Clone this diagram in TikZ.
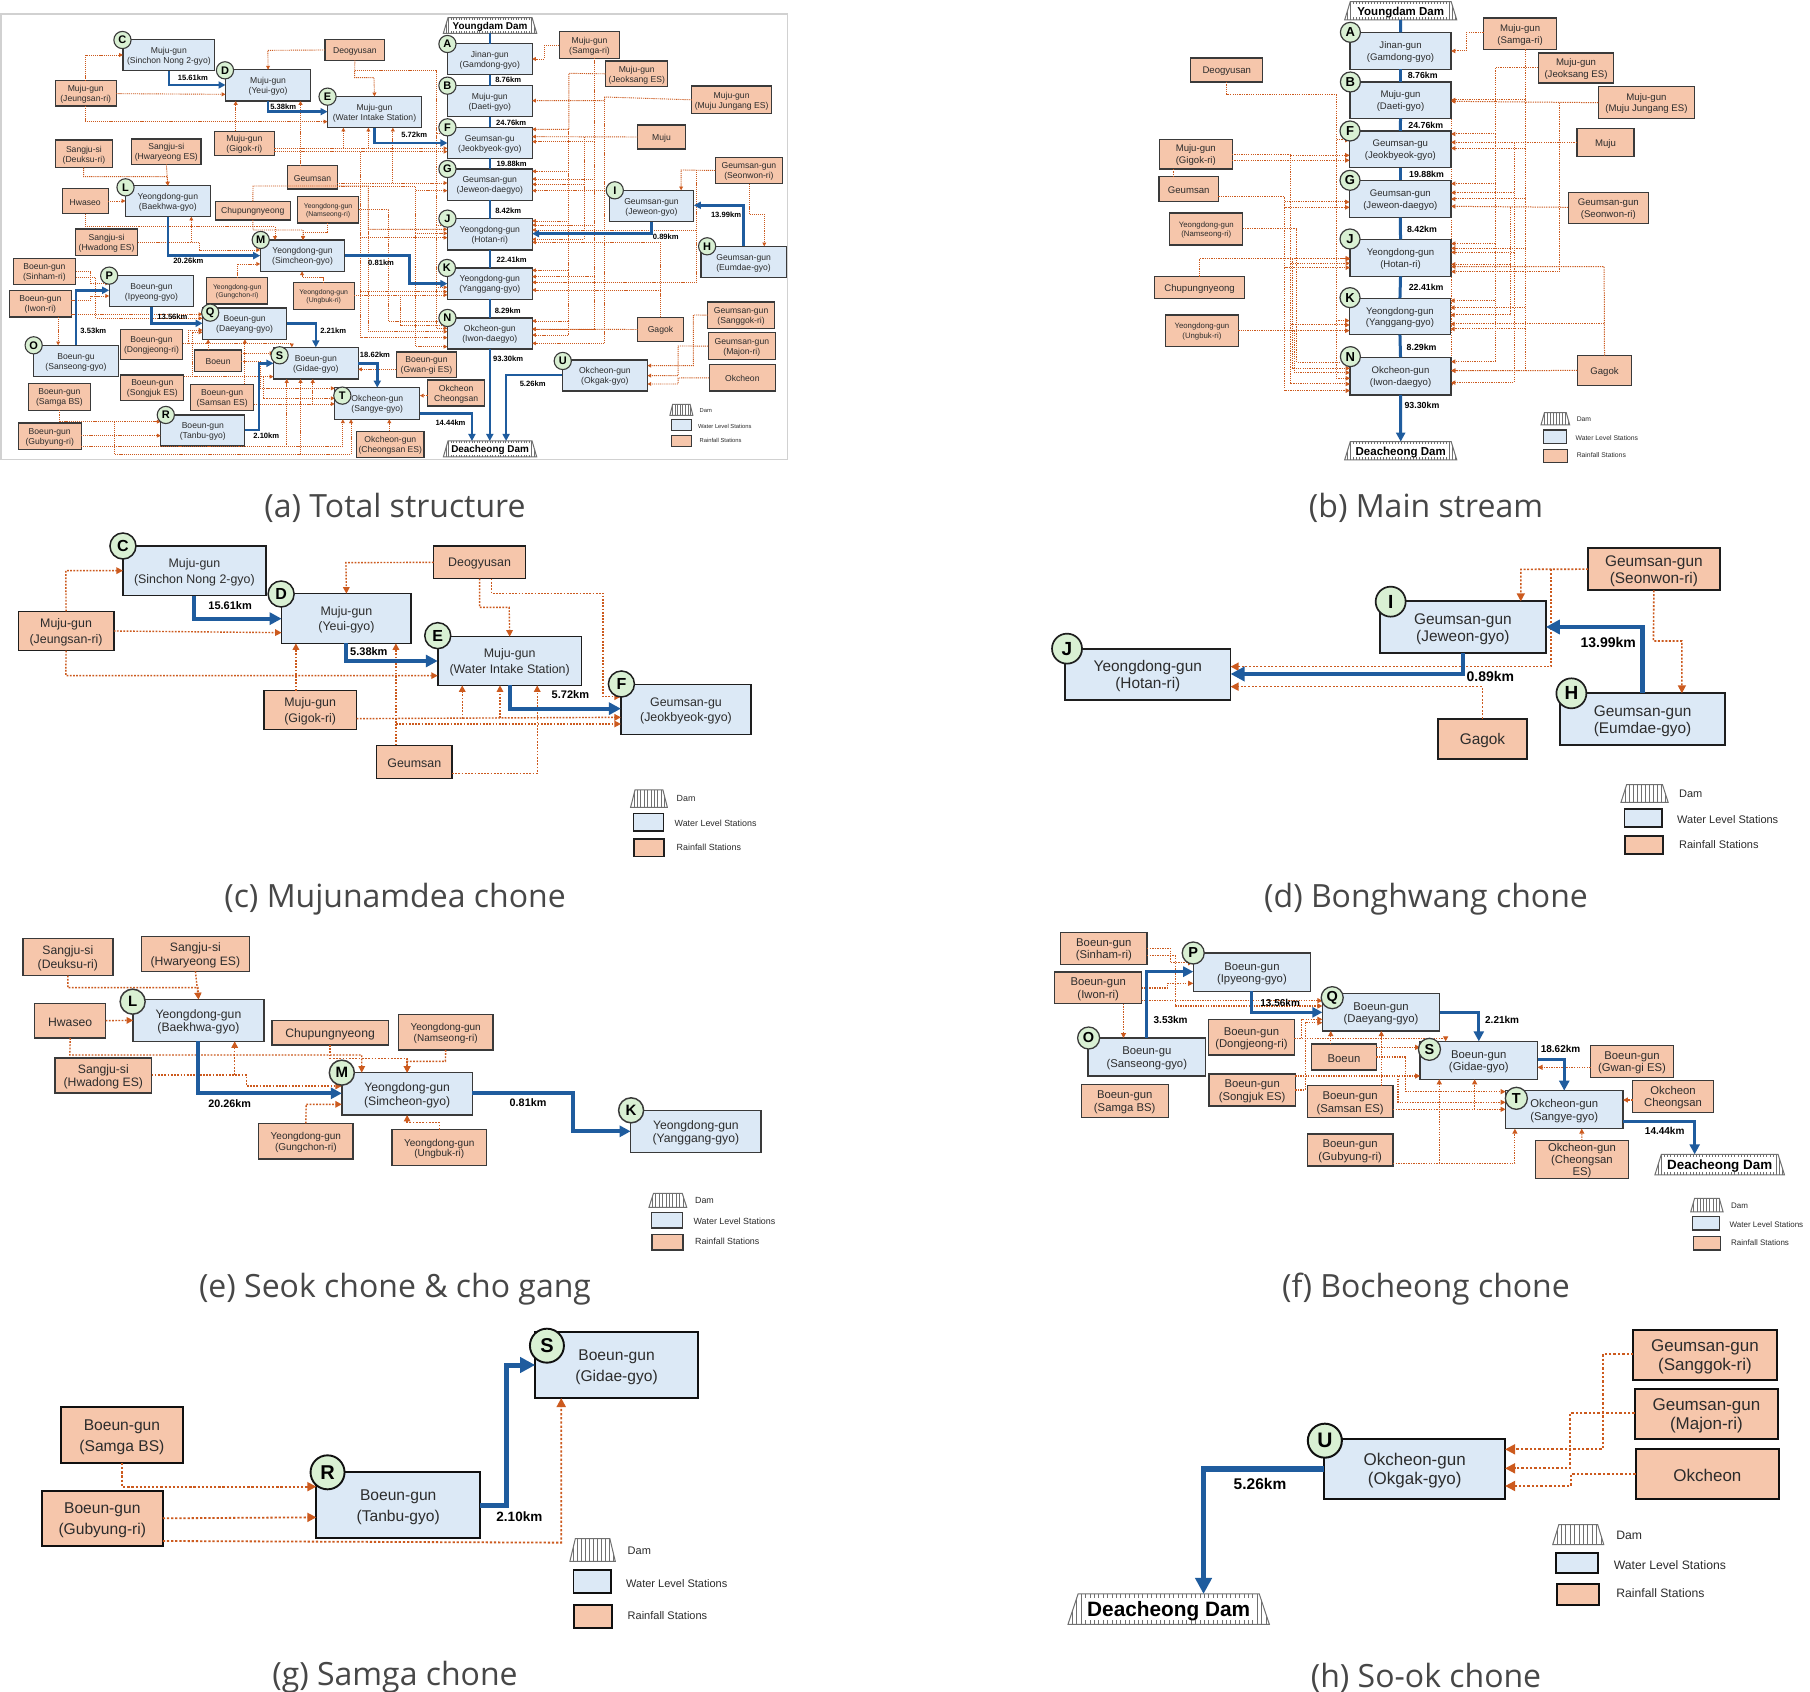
\documentclass[tikz,border=0pt]{standalone}
\usepackage{fontspec}
\setmainfont{Liberation Sans}
\newfontfamily\capfont{Open Sans}
\usetikzlibrary{arrows.meta}
\definecolor{wlc}{HTML}{DCE9F6}
\definecolor{rainfc}{HTML}{F6C6AB}
\definecolor{circc}{HTML}{D9F0D3}
\definecolor{bluec}{HTML}{1F5C9E}
\definecolor{rainc}{HTML}{CC5A1E}
\definecolor{damc}{HTML}{707070}
\definecolor{txtc}{HTML}{2C2C2C}
\definecolor{boxc}{HTML}{3A3A3A}
\newcount\labc
\tikzset{
 stnbase/.style={draw=boxc,line width=\lwb pt,inner sep=0pt,outer sep=0pt,align=center,text=txtc},
 wlb/.style={stnbase,fill=wlc,font=\fontsize{\fm}{\fl}\selectfont},
 rnb/.style={stnbase,fill=rainfc,font=\fontsize{\fm}{\fl}\selectfont},
 rsb/.style={stnbase,fill=rainfc,font=\fontsize{\fs}{\fsl}\selectfont},
 circb/.style={circle,draw=boxc,fill=circc,line width=\lwb pt,inner sep=0pt,outer sep=0pt,minimum size=2*\crad pt,font=\fontsize{\fc}{\fc}\selectfont\bfseries,text=black},
 kml/.style={inner sep=0pt,font=\fontsize{\fk}{\fk}\selectfont\bfseries,text=black},
 legl/.style={inner sep=0pt,anchor=west,font=\fontsize{\fg}{\fg}\selectfont,text=txtc},
 damlab/.style={inner sep=0pt,outer sep=0pt,font=\fontsize{\fd}{\fd}\selectfont\bfseries,text=black},
 rn/.style={draw=rainc,line width=\lwr pt,dash pattern=on 1.25*\lwr pt off 1.05*\lwr pt,-{Triangle[length=\tipr pt,width=\tipr pt]}},
 rnx/.style={draw=rainc,line width=\lwr pt,dash pattern=on 1.25*\lwr pt off 1.05*\lwr pt},
 bl/.style={draw=bluec,line width=\lwl pt,-{Triangle[length=\tipl pt,width=\tipl pt]}},
 bln/.style={draw=bluec,line width=\lwl pt},
 capt/.style={inner sep=0pt,font=\fontsize{32}{36}\capfont,text=black!72},
}
\newcommand\stn[7]{\node[#1,minimum width={(#5-#3)*\sx*1pt},minimum height={(#6-#4)*\sy*1pt}] (#2) at ({(#3+#5)/2},{(#4+#6)/2}) {\rule{0pt}{.95em}#7};}
\newcommand\stnW[6]{\stn{wlb}{#1}{#2}{#3}{#4}{#5}{#6}}
\newcommand\stnR[6]{\stn{rnb}{#1}{#2}{#3}{#4}{#5}{#6}}
\newcommand\stnS[6]{\stn{rsb}{#1}{#2}{#3}{#4}{#5}{#6}}
\newcommand\cirL[4]{\node[circb] (#1) at (#2,#3) {#4};}
\newcommand\kmL[3]{\global\advance\labc by 1 \node[kml] (km\the\labc) at (#1,#2) {#3};}
\newcommand\legT[3]{\global\advance\labc by 1 \node[legl] (lg\the\labc) at (#1,#2) {#3};}
\newcommand\damshape[5]{%
 \begin{scope}
 \clip (#1,#4)--({#1+#5},#2)--({#3-#5},#2)--(#3,#4)--cycle;
 \pgfmathtruncatemacro\damn{(#3-#1)*\sx/\damst}
 \foreach \i in {0,...,\damn}{\draw[damc,line width=.9pt] ({#1+\i*\damst/\sx},#2)--({#1+\i*\damst/\sx},#4);}
 \end{scope}
 \draw[damc,line width=1pt,line join=miter] (#1,#4)--({#1+#5},#2)--({#3-#5},#2)--(#3,#4)--cycle;}
\newcommand\damL[6]{%
 \damshape{#2}{#3}{#4}{#5}{(#4-#2)*.05}
 \fill[white] ({#2+(#4-#2)*.07},{#3+(#5-#3)*.14}) rectangle ({#4-(#4-#2)*.07},{#5-(#5-#3)*.14});
 \stn{damlab}{#1}{#2}{#3}{#4}{#5}{#6}}
\newcommand\legendB[9]{%
 \damshape{#2}{#3}{#4}{#5}{(#4-#2)*.12}
 \node[inner sep=0pt,minimum size=0pt] (#1) at ({(#2+#4)/2},{(#3+#5)/2}) {};
 \stnW{#1w}{#6}{#7}{#8}{#9}{}}
\begin{document}
\begin{tikzpicture}
\useasboundingbox (0pt,0pt) rectangle (1810pt,-1692pt);
\fill[white] (0pt,0pt) rectangle (1810pt,-1692pt);
\node[capt] (capa) at (395pt,-507.5pt) {(a) Total structure};
\node[capt] (capb) at (1426pt,-507.5pt) {(b) Main stream};
\node[capt] (capc) at (395pt,-899.5pt) {(c) Mujunamdea chone};
\node[capt] (capd) at (1426pt,-899.5pt) {(d) Bonghwang chone};
\node[capt] (cape) at (395pt,-1289.5pt) {(e) Seok chone \& cho gang};
\node[capt] (capf) at (1426pt,-1289.5pt) {(f) Bocheong chone};
\node[capt] (capg) at (395pt,-1677.5pt) {(g) Samga chone};
\node[capt] (caph) at (1426pt,-1677.5pt) {(h) So-ok chone};

% ---------- (a)
\def\sx{.5102}\def\sy{.3333}\def\fm{8.6}\def\fl{10}\def\fs{6.9}\def\fsl{8.6}\def\fc{11}\def\crad{8.6}\def\fk{7.6}\def\fg{5.8}\def\fd{9.9}
\def\lwb{1.1}\def\lwr{.9}\def\lwl{2.5}\def\tipr{3.8}\def\tipl{7}\def\damst{2.6}
\begin{scope}[shift={(0pt,0pt)},x={(\sx pt,0pt)},y={(0pt,-\sy pt)}]
\draw[black!18,line width=1.2pt] (2,42) rectangle (1544,1378);
\stnW{aC}{241}{119}{421}{212}{Muju-gun\\(Sinchon Nong 2-gyo)}
\stnW{aD}{442}{209}{609}{303}{Muju-gun\\(Yeui-gyo)}
\stnW{aE}{642}{289}{826}{383}{Muju-gun\\(Water Intake Station)}
\stnW{aA}{877}{131}{1043}{224}{Jinan-gun\\(Gamdong-gyo)}
\stnW{aB}{877}{257}{1043}{350}{Muju-gun\\(Daeti-gyo)}
\stnW{aF}{877}{382}{1043}{475}{Geumsan-gu\\(Jeokbyeok-gyo)}
\stnW{aG}{877}{507}{1043}{601}{Geumsan-gun\\(Jeweon-daegyo)}
\stnW{aJ}{877}{656}{1043}{750}{Yeongdong-gun\\(Hotan-ri)}
\stnW{aK}{877}{804}{1043}{898}{Yeongdong-gun\\(Yanggang-gyo)}
\stnW{aN}{877}{954}{1043}{1047}{Okcheon-gun\\(Iwon-daegyo)}
\stnW{aI}{1194}{571}{1360}{665}{Geumsan-gun\\(Jeweon-gyo)}
\stnW{aH}{1374}{739}{1541}{833}{Geumsan-gun\\(Eumdae-gyo)}
\stnW{aL}{246}{557}{412}{650}{Yeongdong-gun\\(Baekhwa-gyo)}
\stnW{aM}{510}{720}{676}{814}{Yeongdong-gun\\(Simcheon-gyo)}
\stnW{aP}{214}{827}{380}{920}{Boeun-gun\\(Ipyeong-gyo)}
\stnW{aQ}{397}{924}{562}{1018}{Boeun-gun\\(Daeyang-gyo)}
\stnW{aO}{66}{1036}{232}{1130}{Boeun-gu\\(Sanseong-gyo)}
\stnW{aS}{536}{1042}{702}{1137}{Boeun-gun\\(Gidae-gyo)}
\stnW{aR}{315}{1245}{480}{1338}{Boeun-gun\\(Tanbu-gyo)}
\stnW{aT}{656}{1163}{823}{1258}{Okcheon-gun\\(Sangye-gyo)}
\stnW{aU}{1102}{1080}{1269}{1173}{Okcheon-gun\\(Okgak-gyo)}
\stnR{aDeog}{637}{119}{754}{181}{Deogyusan}
\stnR{aSamga}{1096}{95}{1215}{175}{Muju-gun\\(Samga-ri)}
\stnR{aJeok}{1187}{183}{1309}{260}{Muju-gun\\(Jeoksang ES)}
\stnR{aJung}{1356}{258}{1512}{341}{Muju-gun\\(Muju Jungang ES)}
\stnR{aMuju}{1250}{375}{1343}{447}{Muju}
\stnR{aJeung}{108}{242}{228}{318}{Muju-gun\\(Jeungsan-ri)}
\stnR{aGigok}{420}{394}{538}{467}{Muju-gun\\(Gigok-ri)}
\stnR{aDeuk}{108}{420}{221}{503}{Sangju-si\\(Deuksu-ri)}
\stnR{aHwar}{258}{417}{394}{493}{Sangju-si\\(Hwaryeong ES)}
\stnR{aGeum}{564}{497}{661}{567}{Geumsan}
\stnR{aHwas}{122}{565}{212}{641}{Hwaseo}
\stnR{aChup}{422}{604}{569}{660}{Chupungnyeong}
\stnS{aNams}{583}{590}{703}{669}{Yeongdong-gun\\(Namseong-ri)}
\stnR{aHwad}{148}{687}{270}{767}{Sangju-si\\(Hwadong ES)}
\stnR{aSeon}{1402}{472}{1534}{551}{Geumsan-gun\\(Seonwon-ri)}
\stnR{aSinh}{26}{775}{148}{853}{Boeun-gun\\(Sinham-ri)}
\stnR{aIwon}{18}{871}{140}{951}{Boeun-gun\\(Iwon-ri)}
\stnS{aGung}{405}{833}{525}{912}{Yeongdong-gun\\(Gungchon-ri)}
\stnS{aUng}{575}{848}{694}{928}{Yeongdong-gun\\(Ungbuk-ri)}
\stnR{aDong}{236}{989}{358}{1079}{Boeun-gun\\(Dongjeong-ri)}
\stnR{aBoeun}{382}{1050}{473}{1114}{Boeun}
\stnR{aGwan}{777}{1056}{895}{1133}{Boeun-gun\\(Gwan-gi ES)}
\stnR{aSong}{237}{1125}{360}{1202}{Boeun-gun\\(Songjuk ES)}
\stnR{aSams}{374}{1153}{497}{1232}{Boeun-gun\\(Samsan ES)}
\stnR{aSamB}{56}{1150}{177}{1231}{Boeun-gun\\(Samga BS)}
\stnR{aOkCh}{838}{1140}{950}{1218}{Okcheon\\Cheongsan}
\stnR{aGub}{36}{1269}{159}{1349}{Boeun-gun\\(Gubyung-ri)}
\stnR{aChES}{699}{1294}{831}{1372}{Okcheon-gun\\(Cheongsan ES)}
\stnR{aGag}{1250}{952}{1339}{1025}{Gagok}
\stnR{aSang}{1387}{906}{1518}{985}{Geumsan-gun\\(Sanggok-ri)}
\stnR{aMaj}{1388}{998}{1520}{1079}{Geumsan-gun\\(Majon-ri)}
\stnR{aOk}{1390}{1094}{1520}{1173}{Okcheon}
\damL{aYD}{869}{53}{1052}{100}{Youngdam Dam}
\damL{aDD}{869}{1323}{1052}{1371}{Deacheong Dam}
% rain
\draw[rn] (aJeung.north) -- (168,165) -- (aC.west|-0,165);
\draw[rn] (aJeung.east|-0,281) -- (aD.west|-0,283);
\draw[rn] (aJeung.south) -- (168,365) -- (aE.west|-0,365);
\draw[rn] (aDeog.west) -- (525,151) -- (aD.north);
\draw[rn] (aDeog.south) -- (695,233) -- (733,233) -- (aE.north);
\draw[rn] (695,211) -- (855,211) -- (855,400) -- (aF.west|-0,400);
\draw[rn] (855,400) -- (855,675) -- (aJ.west|-0,675);
\draw[rn] (855,675) -- (855,862) -- (aK.west|-0,862);
\draw[rn] (855,862) -- (855,985) -- (aN.west|-0,985);
\draw[rn] (aGigok.north-|462,0) -- (aD.south-|462,0);
\draw[rn] (aGigok.east|-0,445) -- (aF.west|-0,445);
\draw[rn] (aGigok.east|-0,455) -- (aF.west|-0,455);
\draw[rn] (673,445) -- (aE.south-|673,0);
\draw[rn] (722,445) -- (aE.south-|722,0);
\draw[rn] (707,455) -- (707,713) -- (aJ.west|-0,713);
\draw[rn] (707,713) -- (707,875) -- (aK.west|-0,875);
\draw[rn] (707,875) -- (707,1013) -- (aN.west|-0,1013);
\draw[rn] (aGeum.north-|589,0) -- (aD.south-|589,0);
\draw[rn] (aGeum.east|-0,549) -- (aG.west|-0,549);
\draw[rn] (770,549) -- (aE.south-|770,0);
\draw[rn] (aGeum.east|-0,560) -- (815,560) -- (815,572) -- (aG.west|-0,572);
\draw[rn] (815,572) -- (815,700) -- (aJ.west|-0,700);
\draw[rn] (815,700) -- (815,1040) -- (aN.west|-0,1040);
\draw[rn] (aChup.north) -- (496,558) -- (722,558) -- (722,688) -- (aJ.west|-0,688);
\draw[rn] (722,688) -- (722,995) -- (aN.west|-0,995);
\draw[rn] (aChup.south) -- (496,690) -- (594,690) -- (aM.north-|594,0);
\draw[rn] (aNams.south-|642,0) -- (642,697) -- (594,697) -- (aM.north-|594,0);
\draw[rn] (aNams.east|-0,628) -- (762,628) -- (762,965) -- (aN.west|-0,965);
\draw[rn] (aUng.east|-0,885) -- (aK.west|-0,885);
\draw[rn] (785,885) -- (785,975) -- (aN.west|-0,975);
\draw[rn] (aDeuk.south-|164,0) -- (164,530) -- (328,530) -- (aL.north);
\draw[rn] (aHwar.south) -- (aL.north);
\draw[rn] (aHwas.east) -- (aL.west|-0,603);
\draw[rn] (aHwas.south-|167,0) -- (167,680) -- (539,680) -- (aM.north-|539,0);
\draw[rn] (aHwad.east|-0,727) -- (375,727) -- (aL.south-|375,0);
\draw[rn] (aHwad.east|-0,727) -- (390,727) -- (390,750) -- (aM.west|-0,750);
\draw[rn] (aGung.north-|465,0) -- (465,792) -- (aM.west|-0,792);
\draw[rn] (aUng.north-|634,0) -- (634,832) -- (592,832) -- (aM.south-|592,0);
% east
\draw[rn] (aSamga.west) -- (1067,135) -- (1067,177) -- (aA.east|-0,177);
\draw[rn] (aSamga.south-|1166,0) -- (1166,425) -- (aF.east|-0,425);
\draw[rn] (1166,425) -- (1166,537) -- (aG.east|-0,537);
\draw[rn] (1166,537) -- (1166,675) -- (aJ.east|-0,675);
\draw[rn] (1166,675) -- (1166,830) -- (aK.east|-0,830);
\draw[rn] (1166,830) -- (1166,987) -- (aN.east|-0,987);
\draw[rn] (aJeok.west) -- (1115,220) -- (1115,388) -- (aF.east|-0,388);
\draw[rn] (1115,388) -- (1115,514) -- (aG.east|-0,514);
\draw[rn] (1115,514) -- (1115,663) -- (aJ.east|-0,663);
\draw[rn] (1115,663) -- (1115,811) -- (aK.east|-0,811);
\draw[rn] (1115,811) -- (1115,963) -- (aN.east|-0,963);
\draw[rn] (1115,963) -- (1115,1005) -- (aN.east|-0,1005);
\draw[rn] (aJung.west) -- (1185,291) -- (1185,302) -- (aB.east|-0,302);
\draw[rn] (1185,302) -- (1185,572) -- (aG.east|-0,572);
\draw[rn] (1185,572) -- (1185,1030) -- (aN.east|-0,1030);
\draw[rn] (aMuju.west) -- (aF.east|-0,410);
\draw[rn] (1145,410) -- (1145,553) -- (aG.east|-0,553);
\draw[rn] (1145,553) -- (1145,718) -- (aJ.east|-0,718);
\draw[rn] (aSeon.west) -- (1335,510) -- (aI.north-|1335,0);
\draw[rn] (aSeon.south-|1468,0) -- (1468,642) -- (1498,642) -- (aH.north-|1498,0);
\draw[rn] (1365,510) -- (1365,690) -- (aJ.east|-0,690);
\draw[rn] (1365,690) -- (1365,847) -- (aK.east|-0,847);
\draw[rn] (aGag.north-|1295,0) -- (1295,727) -- (aJ.east|-0,727);
\draw[rn] (1295,870) -- (aK.east|-0,870);
\draw[rn] (aGag.west) -- (aN.east|-0,988);
\draw[rn] (aSang.west) -- (1359,945) -- (1359,1097) -- (aU.east|-0,1097);
\draw[rn] (aMaj.west) -- (1329,1038) -- (1329,1127) -- (aU.east|-0,1127);
\draw[rn] (aOk.west) -- (1329,1134) -- (1329,1152) -- (aU.east|-0,1152);
% Bocheong
\draw[rn] (aSinh.east|-0,815) -- (178,815) -- (178,850) -- (aP.west|-0,850);
\draw[rn] (aSinh.east|-0,832) -- (188,832) -- (188,955) -- (aQ.west|-0,955);
\draw[rn] (aIwon.east|-0,900) -- (178,900) -- (178,888) -- (aP.west|-0,888);
\draw[rn] (aIwon.east|-0,943) -- (aQ.west|-0,943);
\draw[rn] (aIwon.south-|114,0) -- (aO.north-|114,0);
\draw[rn] (aDong.east|-0,1031) -- (572,1031) -- (aS.north-|572,0);
\draw[rn] (370,1031) -- (370,990) -- (aQ.west|-0,990);
\draw[rn] (aSong.east|-0,1130) -- (377,1130) -- (377,997) -- (aQ.west|-0,997);
\draw[rn] (377,1130) -- (aS.west|-0,1130);
\draw[rn] (aBoeun.north-|408,0) -- (aQ.south-|408,0);
\draw[rn] (aBoeun.east|-0,1060) -- (aS.west|-0,1060);
\draw[rn] (aBoeun.east|-0,1085) -- (510,1085) -- (510,1165) -- (aT.west|-0,1165);
\draw[rn] (aSams.north-|480,0) -- (aQ.south-|480,0);
\draw[rn] (aSams.east|-0,1212) -- (aT.west|-0,1212);
\draw[rn] (516,1130) -- (516,1195) -- (aT.west|-0,1195);
\draw[rn] (613,1212) -- (aS.south-|613,0);
\draw[rn] (aSamB.south-|116,0) -- (116,1265) -- (aR.west|-0,1265);
\draw[rn] (aGub.east|-0,1307) -- (aR.west|-0,1307);
\draw[rn] (225,1265) -- (225,1363) -- (688,1363) -- (aT.south-|688,0);
\draw[rn] (589,1363) -- (aS.south-|589,0);
\draw[rn] (aGub.east|-0,1340) -- (672,1340) -- (aT.south-|672,0);
\draw[rn] (562,1340) -- (aS.south-|562,0);
\draw[rn] (aChES.north-|763,0) -- (aT.south-|763,0);
\draw[rn] (aOkCh.west|-0,1187) -- (aT.east|-0,1187);
\draw[rn] (aGwan.west|-0,1108) -- (aS.east|-0,1108);
% blue
\draw[bln] (aYD.south-|960,0) -- (aA.north);
\draw[bln] (aA.south) -- (aB.north);
\draw[bln] (aB.south) -- (aF.north);
\draw[bln] (aF.south) -- (aG.north);
\draw[bln] (aG.south) -- (aJ.north);
\draw[bln] (aJ.south) -- (aK.north);
\draw[bln] (aK.south) -- (aN.north);
\draw[bl] (aN.south) -- (aDD.north-|960,0);
\draw[bl] (aC.south) |- (aD.west|-0,255);
\draw[bl] (aD.south) |- (aE.west|-0,335);
\draw[bl] (aE.south) |- (aF.west|-0,429);
\draw[bl] (aI.south) |- (aJ.east|-0,701);
\draw[bl] (aH.north) |- (aI.east|-0,616);
\draw[bl] (aL.south) |- (aM.west|-0,767);
\draw[bl] (aM.east|-0,767) -- (803,767) -- (803,851) -- (aK.west|-0,851);
\draw[bl] (aO.north) |- (aP.west|-0,871);
\draw[bl] (aP.south) |- (aQ.west|-0,970);
\draw[bl] (aQ.east|-0,970) -| (aS.north);
\draw[bl] (aR.east|-0,1290) -- (508,1290) -- (508,1090) -- (aS.west|-0,1090);
\draw[bl] (aS.east|-0,1090) -| (aT.north);
\draw[bl] (aT.east|-0,1240) -- (925,1240) -- (aDD.north-|925,0);
\draw[bl] (aU.west|-0,1125) -- (992,1125) -- (aDD.north-|992,0);
\cirL{acC}{240}{120}{C}\cirL{acD}{441}{211}{D}\cirL{acE}{642}{290}{E}\cirL{acA}{877}{132}{A}\cirL{acB}{877}{257}{B}\cirL{acF}{877}{382}{F}\cirL{acG}{877}{507}{G}\cirL{acJ}{877}{656}{J}\cirL{acK}{876}{804}{K}\cirL{acN}{877}{954}{N}\cirL{acI}{1205}{571}{I}\cirL{acH}{1386}{739}{H}\cirL{acL}{246}{562}{L}\cirL{acM}{511}{720}{M}\cirL{acP}{214}{827}{P}\cirL{acQ}{412}{938}{Q}\cirL{acO}{66}{1036}{O}\cirL{acS}{548}{1066}{S}\cirL{acR}{325}{1245}{R}\cirL{acT}{671}{1187}{T}\cirL{acU}{1103}{1083}{U}
\kmL{378}{232}{15.61km}\kmL{555}{319}{5.38km}\kmL{812}{404}{5.72km}\kmL{996}{240}{8.76km}\kmL{1002}{367}{24.76km}\kmL{1003}{492}{19.88km}\kmL{996}{631}{8.42km}\kmL{1003}{779}{22.41km}\kmL{995}{931}{8.29km}\kmL{996}{1077}{93.30km}\kmL{1423}{645}{13.99km}\kmL{1305}{709}{0.89km}\kmL{369}{783}{20.26km}\kmL{747}{788}{0.81km}\kmL{338}{950}{13.56km}\kmL{183}{991}{3.53km}\kmL{653}{991}{2.21km}\kmL{735}{1063}{18.62km}\kmL{522}{1308}{2.10km}\kmL{883}{1267}{14.44km}\kmL{1044}{1151}{5.26km}
\legendB{aLD}{1313}{1213}{1358}{1246}{1316}{1259}{1355}{1291}
\stnR{aLR}{1316}{1307}{1355}{1339}{}
\legT{1371}{1231}{Dam}\legT{1368}{1278}{Water Level Stations}\legT{1371}{1322}{Rainfall Stations}
\end{scope}

% ---------- (b)
\def\sx{.3827}\def\sy{.3333}\def\fm{9.6}\def\fl{11.8}\def\fs{7.8}\def\fsl{9.4}\def\fc{13}\def\crad{10}\def\fk{8.8}\def\fg{6.8}\def\fd{11.5}
\def\lwb{1.2}\def\lwr{1}\def\lwl{3}\def\tipr{4.4}\def\tipl{9}\def\damst{3}
\begin{scope}[shift={(1120pt,0pt)},x={(\sx pt,0pt)},y={(0pt,-\sy pt)}]
\draw[rnx] (865,355) -- (865,1150);
\draw[rn] (865,1150) -- (865,1163);
\stnW{bA}{601}{97}{865}{208}{Jinan-gun\\(Gamdong-gyo)}
\stnW{bB}{601}{246}{865}{355}{Muju-gun\\(Daeti-gyo)}
\stnW{bF}{600}{393}{865}{503}{Geumsan-gu\\(Jeokbyeok-gyo)}
\stnW{bG}{600}{541}{865}{653}{Geumsan-gun\\(Jeweon-daegyo)}
\stnW{bJ}{601}{718}{865}{829}{Yeongdong-gun\\(Hotan-ri)}
\stnW{bK}{600}{895}{863}{1004}{Yeongdong-gun\\(Yanggang-gyo)}
\stnW{bN}{601}{1072}{865}{1185}{Okcheon-gun\\(Iwon-daegyo)}
\stnR{bSamga}{950}{54}{1141}{148}{Muju-gun\\(Samga-ri)}
\stnR{bJeok}{1093}{159}{1290}{249}{Muju-gun\\(Jeoksang ES)}
\stnR{bJung}{1250}{260}{1501}{355}{Muju-gun\\(Muju Jungang ES)}
\stnR{bMuju}{1194}{386}{1343}{470}{Muju}
\stnR{bSeon}{1171}{577}{1381}{670}{Geumsan-gun\\(Seonwon-ri)}
\stnR{bGag}{1195}{1067}{1337}{1156}{Gagok}
\stnR{bDeog}{185}{174}{373}{246}{Deogyusan}
\stnR{bGigok}{103}{419}{293}{507}{Muju-gun\\(Gigok-ri)}
\stnR{bGeum}{102}{529}{257}{605}{Geumsan}
\stnS{bNams}{130}{639}{321}{735}{Yeongdong-gun\\(Namseong-ri)}
\stnR{bChup}{91}{830}{325}{895}{Chupungnyeong}
\stnS{bUng}{119}{945}{309}{1040}{Yeongdong-gun\\(Ungbuk-ri)}
\damL{bYD}{587}{5}{880}{60}{Youngdam Dam}
\damL{bDD}{587}{1325}{880}{1380}{Deacheong Dam}
\draw[rn] (bDeog.south) -- (279,284) -- (565,284) -- (565,420) -- (bF.west|-0,420);
\draw[rn] (565,420) -- (565,775) -- (bJ.west|-0,775);
\draw[rn] (565,775) -- (565,962) -- (bK.west|-0,962);
\draw[rn] (565,962) -- (565,1135) -- (bN.west|-0,1135);
\draw[rn] (bGigok.east|-0,463) -- (445,463) -- (445,466) -- (bF.west|-0,466);
\draw[rn] (bGigok.east|-0,481) -- (bF.west|-0,481);
\draw[rn] (445,466) -- (445,790) -- (bJ.west|-0,790);
\draw[rn] (445,790) -- (445,975) -- (bK.west|-0,975);
\draw[rn] (445,975) -- (445,1152) -- (bN.west|-0,1152);
\draw[rnx] (bGigok.south-|141,0) -- (bGeum.north-|141,0);
\draw[rn] (bGeum.east|-0,591) -- (430,591) -- (430,606) -- (bG.west|-0,606);
\draw[rn] (430,606) -- (430,622) -- (bG.west|-0,622);
\draw[rn] (430,622) -- (430,803) -- (bJ.west|-0,803);
\draw[rn] (430,803) -- (430,1172) -- (bN.west|-0,1172);
\draw[rn] (bNams.east|-0,686) -- (462,686) -- (462,1087) -- (bN.west|-0,1087);
\draw[rn] (bChup.north-|207,0) -- (207,777) -- (450,777) -- (bJ.west|-0,777);
\draw[rn] (450,777) -- (450,1105) -- (bN.west|-0,1105);
\draw[rn] (bUng.east|-0,992) -- (bK.west|-0,992);
\draw[rn] (455,992) -- (455,1118) -- (bN.west|-0,1118);
\draw[rn] (bSamga.west|-0,97) -- (905,97) -- (905,153) -- (bA.east|-0,153);
\draw[rn] (bSamga.south-|1060,0) -- (1060,300) -- (bB.east|-0,300);
\draw[rn] (1060,300) -- (1060,445) -- (bF.east|-0,445);
\draw[rn] (1060,445) -- (1060,597) -- (bG.east|-0,597);
\draw[rn] (1060,597) -- (1060,745) -- (bJ.east|-0,745);
\draw[rn] (1060,745) -- (1060,923) -- (bK.east|-0,923);
\draw[rn] (1060,923) -- (1060,1112) -- (bN.east|-0,1112);
\draw[rn] (bJeok.west|-0,203) -- (980,203) -- (980,402) -- (bF.east|-0,402);
\draw[rn] (980,402) -- (980,551) -- (bG.east|-0,551);
\draw[rn] (980,551) -- (980,731) -- (bJ.east|-0,731);
\draw[rn] (980,731) -- (980,902) -- (bK.east|-0,902);
\draw[rn] (980,902) -- (980,1085) -- (bN.east|-0,1085);
\draw[rn] (bJung.west|-0,308) -- (bB.east|-0,304);
\draw[rn] (1148,308) -- (1148,815) -- (bJ.east|-0,815);
\draw[rn] (bMuju.west|-0,427) -- (bF.east|-0,427);
\draw[rn] (1030,427) -- (1030,578) -- (bG.east|-0,578);
\draw[rn] (1030,578) -- (1030,757) -- (bJ.east|-0,757);
\draw[rn] (1030,757) -- (1030,1148) -- (bN.east|-0,1148);
\draw[rn] (bSeon.west|-0,622) -- (bG.east|-0,619);
\draw[rn] (1020,622) -- (1020,793) -- (bJ.east|-0,793);
\draw[rn] (1020,793) -- (1020,945) -- (bK.east|-0,945);
\draw[rn] (bGag.north) -- (1265,800) -- (bJ.east|-0,800);
\draw[rn] (1265,972) -- (bK.east|-0,972);
\draw[rn] (bGag.west) -- (bN.east|-0,1112);
\draw[rn] (1060,987) -- (bK.east|-0,987);
\draw[bln] (bYD.south) -- (bA.north);
\draw[bln] (bA.south) -- (bB.north);
\draw[bln] (bB.south) -- (bF.north);
\draw[bln] (bF.south) -- (bG.north);
\draw[bln] (bG.south) -- (bJ.north);
\draw[bln] (bJ.south) -- (bK.north);
\draw[bln] (bK.south) -- (bN.north);
\draw[bl] (bN.south) -- (bDD.north);
\cirL{bcA}{602}{97}{A}\cirL{bcB}{602}{246}{B}\cirL{bcF}{601}{393}{F}\cirL{bcG}{601}{541}{G}\cirL{bcJ}{601}{717}{J}\cirL{bcK}{601}{893}{K}\cirL{bcN}{602}{1070}{N}
\kmL{791}{226}{8.76km}\kmL{799}{375}{24.76km}\kmL{801}{522}{19.88km}\kmL{789}{687}{8.42km}\kmL{800}{861}{22.41km}\kmL{788}{1042}{8.29km}\kmL{789}{1215}{93.30km}
\legendB{bLD}{1100}{1238}{1175}{1275}{1106}{1290}{1167}{1330}
\stnR{bLR}{1106}{1348}{1169}{1388}{}
\legT{1193}{1257}{Dam}\legT{1190}{1313}{Water Level Stations}\legT{1193}{1366}{Rainfall Stations}
\end{scope}

% ---------- (c)
\def\sx{.5102}\def\sy{.3333}\def\fm{12.4}\def\fl{15.6}\def\fs{10}\def\fsl{12}\def\fc{16}\def\crad{13}\def\fk{11}\def\fg{8.9}\def\fd{11}
\definecolor{boxc}{HTML}{1E1E1E}
\def\lwb{1.5}\def\lwr{1.4}\def\lwl{4}\def\tipr{6.5}\def\tipl{12}\def\damst{3.4}
\begin{scope}[shift={(0pt,-530pt)},x={(\sx pt,0pt)},y={(0pt,-\sy pt)}]
\stnW{cC}{241}{48}{521}{197}{Muju-gun\\(Sinchon Nong 2-gyo)}
\stnW{cD}{552}{191}{806}{340}{Muju-gun\\(Yeui-gyo)}
\stnW{cE}{858}{320}{1140}{466}{Muju-gun\\(Water Intake Station)}
\stnW{cF}{1217}{464}{1472}{613}{Geumsan-gu\\(Jeokbyeok-gyo)}
\stnR{cJeung}{36}{244}{223}{362}{Muju-gun\\(Jeungsan-ri)}
\stnR{cDeog}{850}{48}{1030}{146}{Deogyusan}
\stnR{cGigok}{517}{482}{699}{598}{Muju-gun\\(Gigok-ri)}
\stnR{cGeum}{738}{646}{886}{746}{Geumsan}
\draw[rn] (cJeung.north) -- (129,122) -- (cC.west|-0,122);
\draw[rn] (cJeung.east|-0,303) -- (cD.west|-0,308);
\draw[rn] (cJeung.south) -- (129,437) -- (cE.west|-0,437);
\draw[rn] (cDeog.west) -- (678,98) -- (cD.north);
\draw[rn] (cDeog.south) -- (940,232) -- (998,232) -- (cE.north);
\draw[rn] (cDeog.south-|963,0) -- (963,190) -- (1182,190) -- (1182,500) -- (cF.west|-0,500);
\draw[rn] (cGigok.north-|580,0) -- (cD.south-|580,0);
\draw[rn] (cGigok.east|-0,566) -- (cF.west|-0,562);
\draw[rn] (906,566) -- (cE.south-|906,0);
\draw[rn] (980,564) -- (cE.south-|980,0);
\draw[rn] (cGeum.north-|776,0) -- (cD.south-|776,0);
\draw[rn] (776,582) -- (cF.west|-0,582);
\draw[rn] (cGeum.east|-0,730) -- (1053,730) -- (cE.south-|1053,0);
\draw[bl] (cC.south) |- (cD.west|-0,266);
\draw[bl] (cD.south) |- (cE.west|-0,393);
\draw[bl] (cE.south) |- (cF.west|-0,536);
\cirL{ccC}{241}{48}{C}\cirL{ccD}{551}{192}{D}\cirL{ccE}{858}{317}{E}\cirL{ccF}{1218}{462}{F}
\kmL{451}{228}{15.61km}\kmL{723}{365}{5.38km}\kmL{1118}{495}{5.72km}
\legendB{cLD}{1236}{780}{1308}{832}{1242}{850}{1300}{903}
\stnR{cLR}{1243}{927}{1301}{980}{}
\legT{1326}{806}{Dam}\legT{1322}{881}{Water Level Stations}\legT{1326}{952}{Rainfall Stations}
\end{scope}

% ---------- (d)
\def\sx{.4911}\def\sy{.3333}\def\fm{15.4}\def\fl{16.6}\def\fc{19}\def\crad{15}\def\fk{14}\def\fg{11}
\def\lwb{1.7}\def\lwr{1.6}\def\lwl{4.5}\def\tipr{8}\def\tipl{14}\def\damst{4}
\begin{scope}[shift={(1040pt,-530pt)},x={(\sx pt,0pt)},y={(0pt,-\sy pt)}]
\stnW{dI}{692}{214}{1030}{370}{Geumsan-gun\\(Jeweon-gyo)}
\stnW{dJ}{51}{356}{388}{511}{Yeongdong-gun\\(Hotan-ri)}
\stnW{dH}{1059}{490}{1395}{645}{Geumsan-gun\\(Eumdae-gyo)}
\stnR{dSeon}{1116}{54}{1384}{181}{Geumsan-gun\\(Seonwon-ri)}
\stnR{dGag}{810}{567}{992}{688}{Gagok}
\draw[rn] (dSeon.west) -- (979,118) -- (dI.north-|979,0);
\draw[rn] (1041,118) -- (1041,410) -- (dJ.east|-0,410);
\draw[rn] (dSeon.south) -- (1249,333) -- (1307,333) -- (dH.north-|1307,0);
\draw[rn] (dGag.north) -- (901,470) -- (dJ.east|-0,470);
\draw[bl] (dH.north) |- (dI.east|-0,291);
\draw[bl] (dI.south) |- (dJ.east|-0,432);
\cirL{dcI}{714}{215}{I}\cirL{dcJ}{55}{356}{J}\cirL{dcH}{1082}{490}{H}
\kmL{1157}{337}{13.99km}\kmL{917}{441}{0.89km}
\legendB{dLD}{1183}{764}{1279}{817}{1190}{837}{1267}{892}
\stnR{dLR}{1191}{918}{1269}{972}{}
\legT{1301}{792}{Dam}\legT{1297}{869}{Water Level Stations}\legT{1301}{943}{Rainfall Stations}
\end{scope}

% ---------- (e)
\def\sx{.5102}\def\sy{.3333}\def\fm{12.2}\def\fl{13.6}\def\fs{10}\def\fsl{10.6}\def\fc{15}\def\crad{12.5}\def\fk{10.8}\def\fg{8.9}
\definecolor{boxc}{HTML}{3A3A3A}
\def\lwb{1.5}\def\lwr{1.4}\def\lwl{3.8}\def\tipr{6.5}\def\tipl{11}\def\damst{3.4}
\begin{scope}[shift={(0pt,-920pt)},x={(\sx pt,0pt)},y={(0pt,-\sy pt)}]
\stnW{eL}{261}{238}{517}{364}{Yeongdong-gun\\(Baekhwa-gyo)}
\stnW{eM}{670}{458}{926}{585}{Yeongdong-gun\\(Simcheon-gyo)}
\stnW{eK}{1236}{572}{1492}{697}{Yeongdong-gun\\(Yanggang-gyo)}
\stnR{eDeuk}{45}{55}{221}{167}{Sangju-si\\(Deuksu-ri)}
\stnR{eHwar}{277}{50}{489}{154}{Sangju-si\\(Hwaryeong ES)}
\stnR{eHwas}{68}{250}{207}{354}{Hwaseo}
\stnR{eHwad}{108}{414}{297}{519}{Sangju-si\\(Hwadong ES)}
\stnR{eChup}{533}{301}{761}{375}{Chupungnyeong}
\stnS{eNams}{781}{283}{966}{390}{Yeongdong-gun\\(Namseong-ri)}
\stnS{eGung}{507}{610}{692}{717}{Yeongdong-gun\\(Gungchon-ri)}
\stnS{eUng}{768}{629}{954}{737}{Yeongdong-gun\\(Ungbuk-ri)}
\draw[rn] (eDeuk.south) -- (133,203) -- (388,203) -- (eL.north);
\draw[rn] (eHwar.south) -- (eL.north);
\draw[rn] (eHwas.east) -- (eL.west|-0,301);
\draw[rn] (eHwas.south) -- (137,405) -- (709,405) -- (eM.north-|709,0);
\draw[rn] (eChup.south) -- (647,415) -- (798,415) -- (eM.north);
\draw[rn] (eNams.south) -- (873,424) -- (798,424) -- (eM.north);
\draw[rn] (eHwad.east|-0,465) -- (483,465) -- (483,498) -- (eM.west|-0,498);
\draw[rn] (460,465) -- (eL.south-|460,0);
\draw[rn] (eGung.north) -- (600,553) -- (eM.west|-0,553);
\draw[rn] (eUng.north) -- (861,607) -- (798,607) -- (eM.south);
\draw[bl] (eL.south-|388,0) |- (eM.west|-0,520);
\draw[bl] (eM.east|-0,520) -- (1123,520) -- (1123,634) -- (eK.west|-0,634);
\cirL{ecL}{260}{245}{L}\cirL{ecM}{670}{458}{M}\cirL{ecK}{1237}{571}{K}
\kmL{450}{550}{20.26km}\kmL{1035}{548}{0.81km}
\legendB{eLD}{1272}{820}{1346}{862}{1277}{878}{1338}{924}
\stnR{eLR}{1278}{944}{1339}{990}{}
\legT{1362}{842}{Dam}\legT{1359}{905}{Water Level Stations}\legT{1362}{965}{Rainfall Stations}
\end{scope}

% ---------- (f)
\def\sx{.4911}\def\sy{.3333}\def\fm{11.3}\def\fl{12.4}\def\fc{14.5}\def\crad{11}\def\fk{10}\def\fg{8}\def\fd{13.4}
\def\lwb{1.3}\def\lwr{1.1}\def\lwl{3}\def\tipr{5}\def\tipl{10}\def\damst{3.2}
\begin{scope}[shift={(1040pt,-920pt)},x={(\sx pt,0pt)},y={(0pt,-\sy pt)}]
\stnW{fP}{312}{99}{551}{214}{Boeun-gun\\(Ipyeong-gyo)}
\stnW{fQ}{575}{220}{814}{333}{Boeun-gun\\(Daeyang-gyo)}
\stnW{fO}{98}{354}{337}{468}{Boeun-gu\\(Sanseong-gyo)}
\stnW{fS}{774}{364}{1013}{478}{Boeun-gun\\(Gidae-gyo)}
\stnW{fT}{948}{512}{1187}{626}{Okcheon-gun\\(Sangye-gyo)}
\stnR{fSinh}{42}{37}{218}{133}{Boeun-gun\\(Sinham-ri)}
\stnR{fIwon}{30}{156}{207}{251}{Boeun-gun\\(Iwon-ri)}
\stnR{fDong}{343}{298}{518}{405}{Boeun-gun\\(Dongjeong-ri)}
\stnR{fSong}{344}{462}{520}{558}{Boeun-gun\\(Songjuk ES)}
\stnR{fBoeun}{553}{372}{685}{450}{Boeun}
\stnR{fSams}{544}{497}{719}{593}{Boeun-gun\\(Samsan ES)}
\stnR{fGub}{544}{642}{719}{738}{Boeun-gun\\(Gubyung-ri)}
\stnR{fSamB}{84}{494}{261}{592}{Boeun-gun\\(Samga BS)}
\stnR{fGwan}{1121}{377}{1290}{472}{Boeun-gun\\(Gwan-gi ES)}
\stnR{fOkCh}{1207}{481}{1371}{578}{Okcheon\\Cheongsan}
\stnR{fChES}{1009}{669}{1198}{767}{Okcheon-gun\\(Cheongsan\\ES)}
\damL{fDD}{1252}{703}{1516}{765}{Deacheong Dam}
\draw[rn] (fSinh.east|-0,85) -- (265,85) -- (265,128) -- (fP.west|-0,128);
\draw[rn] (fSinh.east|-0,107) -- (275,107) -- (275,258) -- (fQ.west|-0,258);
\draw[rn] (fIwon.east|-0,204) -- (260,204) -- (260,190) -- (fP.west|-0,190);
\draw[rn] (fIwon.east|-0,242) -- (fQ.west|-0,242);
\draw[rn] (fIwon.south-|170,0) -- (fO.north-|170,0);
\draw[rn] (fDong.east|-0,355) -- (826,355) -- (fS.north-|826,0);
\draw[rn] (533,355) -- (533,298) -- (fQ.west|-0,298);
\draw[rn] (fSong.east|-0,510) -- (540,510) -- (540,308) -- (fQ.west|-0,308);
\draw[rn] (fSong.east|-0,468) -- (fS.west|-0,468);
\draw[rn] (fBoeun.north-|592,0) -- (fQ.south-|592,0);
\draw[rn] (fBoeun.east|-0,382) -- (fS.west|-0,382);
\draw[rn] (fBoeun.east|-0,411) -- (745,411) -- (745,515) -- (fT.west|-0,515);
\draw[rn] (fSams.north-|695,0) -- (fQ.south-|695,0);
\draw[rn] (fSams.east|-0,568) -- (fT.west|-0,568);
\draw[rn] (729,468) -- (729,547) -- (fT.west|-0,547);
\draw[rn] (885,568) -- (fS.south-|885,0);
\draw[rn] (fGub.east|-0,730) -- (967,730) -- (fT.south-|967,0);
\draw[rn] (813,730) -- (fS.south-|813,0);
\draw[rn] (fGwan.west|-0,442) -- (fS.east|-0,442);
\draw[rn] (fOkCh.west|-0,540) -- (fT.east|-0,540);
\draw[rn] (fChES.north) -- (fT.south-|1103,0);
\draw[bl] (fO.north) |- (fP.west|-0,155);
\draw[bl] (fP.south) |- (fQ.west|-0,277);
\draw[bl] (fQ.east|-0,276) -| (fS.north);
\draw[bl] (fS.east|-0,420) -| (fT.north);
\draw[bl] (fT.east|-0,604) -- (1333,604) -- (fDD.north-|1333,0);
\cirL{fcP}{312}{99}{P}\cirL{fcQ}{595}{233}{Q}\cirL{fcO}{99}{354}{O}\cirL{fcS}{793}{388}{S}\cirL{fcT}{970}{535}{T}
\kmL{489}{249}{13.56km}\kmL{266}{299}{3.53km}\kmL{941}{299}{2.21km}\kmL{1060}{386}{18.62km}\kmL{1272}{634}{14.44km}
\legendB{fLD}{1325}{835}{1391}{876}{1329}{890}{1384}{930}
\stnR{fLR}{1330}{950}{1385}{990}{}
\legT{1407}{856}{Dam}\legT{1404}{914}{Water Level Stations}\legT{1407}{968}{Rainfall Stations}
\end{scope}

% ---------- (g)
\def\sx{.5102}\def\sy{.3333}\def\fm{15.6}\def\fl{21}\def\fc{20}\def\crad{17}\def\fk{13.5}\def\fg{11}
\definecolor{boxc}{HTML}{101010}
\def\lwb{1.9}\def\lwr{1.8}\def\lwl{5}\def\tipr{9}\def\tipl{15}\def\damst{4}
\begin{scope}[shift={(0pt,-1310pt)},x={(\sx pt,0pt)},y={(0pt,-\sy pt)}]
\stnW{gS}{1049}{66}{1368}{264}{Boeun-gun\\(Gidae-gyo)}
\stnW{gR}{620}{486}{941}{685}{Boeun-gun\\(Tanbu-gyo)}
\stnR{gSamB}{120}{292}{358}{459}{Boeun-gun\\(Samga BS)}
\stnR{gGub}{82}{543}{319}{708}{Boeun-gun\\(Gubyung-ri)}
\draw[rn] (gSamB.south) -- (239,530) -- (gR.west|-0,530);
\draw[rn] (gGub.east|-0,625) -- (gR.west|-0,622);
\draw[rn] (gGub.east|-0,693) -- (1100,698) -- (gS.south-|1100,0);
\draw[bl] (gR.east|-0,587) -- (993,587) -- (993,165) -- (gS.west|-0,165);
\cirL{gcS}{1072}{107}{S}\cirL{gcR}{642}{487}{R}
\kmL{1018}{620}{2.10km}
\legendB{gLD}{1117}{686}{1206}{754}{1124}{780}{1198}{850}
\stnR{gLR}{1125}{885}{1199}{955}{}
\legT{1230}{723}{Dam}\legT{1227}{821}{Water Level Stations}\legT{1230}{917}{Rainfall Stations}
\end{scope}

% ---------- (h)
\def\sx{.4911}\def\sy{.3333}\def\fm{17}\def\fl{19.4}\def\fc{21}\def\crad{17}\def\fk{15.5}\def\fg{12.2}\def\fd{20.8}
\def\lwb{2}\def\lwr{1.9}\def\lwl{5.5}\def\tipr{10}\def\tipl{16}\def\damst{4.4}
\begin{scope}[shift={(1040pt,-1310pt)},x={(\sx pt,0pt)},y={(0pt,-\sy pt)}]
\stnW{hU}{579}{386}{947}{567}{Okcheon-gun\\(Okgak-gyo)}
\stnR{hSang}{1208}{60}{1500}{209}{Geumsan-gun\\(Sanggok-ri)}
\stnR{hMaj}{1211}{237}{1503}{386}{Geumsan-gun\\(Majon-ri)}
\stnR{hOk}{1213}{417}{1505}{567}{Okcheon}
\damL{hDD}{57}{852}{467}{943}{Deacheong Dam}
\draw[rn] (hSang.west|-0,132) -- (1146,132) -- (1146,418) -- (hU.east|-0,418);
\draw[rn] (hMaj.west|-0,310) -- (1079,310) -- (1079,475) -- (hU.east|-0,475);
\draw[rn] (hOk.west|-0,492) -- (1081,492) -- (1081,528) -- (hU.east|-0,528);
\draw[bl] (hU.west|-0,477) -- (333,477) -- (hDD.north-|333,0);
\cirL{hcU}{580}{392}{U}
\kmL{448}{523}{5.26km}
\legendB{hLD}{1044}{644}{1148}{704}{1051}{729}{1136}{790}
\stnR{hLR}{1052}{821}{1138}{885}{}
\legT{1173}{676}{Dam}\legT{1168}{765}{Water Level Stations}\legT{1173}{850}{Rainfall Stations}
\end{scope}
\end{tikzpicture}
\end{document}
